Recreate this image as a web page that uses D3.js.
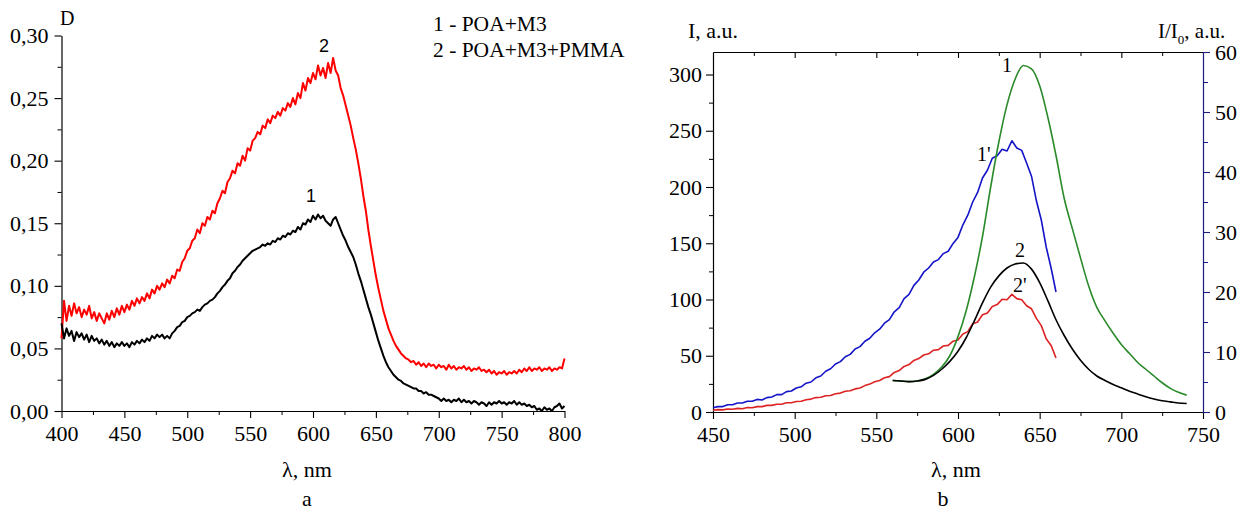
<!DOCTYPE html>
<html>
<head>
<meta charset="utf-8">
<script src="https://cdn.jsdelivr.net/npm/d3@7"></script>
<style>
  html, body { margin: 0; padding: 0; background: #fff; }
  svg { display: block; }
  text { font-family: "Liberation Serif", "Times New Roman", serif; }
</style>
</head>
<body>
<svg id="chart" width="1242" height="513"></svg>
<script>
// ---------------- DATA ----------------
// Panel a: absorbance spectra, wavelength grid 400..800 nm every 2 nm
const lambdaA = d3.range(400, 801, 2);
// curve 1 : POA+M3 (black)
const absPOA_M3 = [
  0.070,0.058,0.066,0.060,0.064,0.056,0.063,0.059,0.062,0.057,0.061,
  0.055,0.060,0.056,0.058,0.054,0.057,0.053,0.056,0.052,0.055,
  0.051,0.054,0.052,0.055,0.052,0.054,0.051,0.055,0.053,0.056,
  0.054,0.057,0.055,0.058,0.056,0.060,0.058,0.061,0.059,0.061,
  0.058,0.060,0.058,0.062,0.064,0.067,0.068,0.071,0.072,0.075,
  0.076,0.078,0.079,0.081,0.080,0.083,0.085,0.086,0.088,0.089,
  0.091,0.094,0.096,0.099,0.101,0.104,0.106,0.110,0.112,0.115,
  0.117,0.120,0.122,0.124,0.126,0.128,0.129,0.130,0.131,0.133,
  0.132,0.134,0.133,0.136,0.135,0.138,0.137,0.140,0.139,0.142,
  0.141,0.144,0.143,0.147,0.145,0.150,0.149,0.153,0.151,0.156,
  0.153,0.157,0.154,0.156,0.152,0.150,0.148,0.153,0.155,0.150,
  0.145,0.140,0.136,0.131,0.127,0.123,0.117,0.110,0.104,0.097,
  0.090,0.083,0.077,0.070,0.063,0.056,0.050,0.044,0.039,0.035,
  0.032,0.029,0.027,0.025,0.024,0.022,0.021,0.020,0.019,0.018,
  0.018,0.016,0.016,0.014,0.015,0.013,0.013,0.012,0.011,0.010,
  0.008,0.010,0.008,0.009,0.007,0.009,0.008,0.010,0.007,0.009,
  0.007,0.008,0.006,0.008,0.007,0.005,0.007,0.006,0.004,0.007,
  0.005,0.007,0.006,0.008,0.006,0.007,0.005,0.007,0.006,0.008,
  0.005,0.007,0.005,0.006,0.004,0.005,0.003,0.004,0.001,0.002,
  0.000,0.003,0.001,0.002,0.000,0.003,0.004,0.006,0.002,0.004
];
// curve 2 : POA+M3+PMMA (red)
const absPOA_M3_PMMA = [
  0.058,0.088,0.072,0.084,0.076,0.086,0.078,0.083,0.075,0.081,0.077,
  0.084,0.074,0.079,0.072,0.078,0.074,0.070,0.078,0.073,0.080,
  0.075,0.082,0.077,0.084,0.079,0.085,0.081,0.088,0.084,0.090,
  0.086,0.091,0.088,0.094,0.090,0.097,0.094,0.100,0.097,0.102,
  0.099,0.105,0.102,0.108,0.106,0.113,0.112,0.119,0.122,0.128,
  0.130,0.136,0.138,0.145,0.142,0.150,0.148,0.155,0.153,0.160,
  0.158,0.166,0.170,0.176,0.174,0.183,0.186,0.192,0.190,0.198,
  0.196,0.204,0.200,0.210,0.208,0.216,0.218,0.223,0.221,0.228,
  0.226,0.233,0.230,0.236,0.234,0.239,0.236,0.242,0.240,0.246,
  0.243,0.250,0.245,0.254,0.250,0.262,0.256,0.266,0.262,0.270,
  0.265,0.276,0.268,0.274,0.266,0.278,0.270,0.282,0.272,0.268,
  0.258,0.252,0.244,0.236,0.228,0.218,0.209,0.198,0.186,0.172,
  0.160,0.145,0.132,0.120,0.108,0.098,0.089,0.080,0.073,0.066,
  0.061,0.056,0.052,0.049,0.046,0.044,0.042,0.041,0.039,0.040,
  0.037,0.039,0.036,0.038,0.035,0.038,0.036,0.037,0.034,0.037,
  0.035,0.036,0.033,0.037,0.034,0.036,0.033,0.035,0.034,0.036,
  0.033,0.035,0.032,0.034,0.033,0.035,0.032,0.033,0.031,0.033,
  0.030,0.032,0.029,0.031,0.030,0.032,0.029,0.031,0.030,0.032,
  0.030,0.033,0.031,0.034,0.032,0.035,0.032,0.034,0.033,0.035,
  0.032,0.034,0.033,0.035,0.032,0.034,0.033,0.035,0.034,0.042
];
const yTicksA = [0, 0.05, 0.10, 0.15, 0.20, 0.25, 0.30];
const xTicksA = [400, 450, 500, 550, 600, 650, 700, 750, 800];
const legendA = ["1 - POA+M3", "2 - POA+M3+PMMA"];

// Panel b: luminescence, curves 1 and 2 on left axis (I, a.u.)
const lambdaI = d3.range(560, 741, 5);
const lum1 = [28,27.5,27,27.5,29.5,33.5,40,50,67,90,120,156,200,240,273,296,308,305,290,262,
              228,190,163,137,112,93,81,70,60,52,44,38,32,26,21,17.5,15];
const lum2 = [28,27.5,27,27.5,29,32.5,38,45,54,66,81,97,111,121,128,131.5,132.5,127,115,99,
              82,68,56,46,38,32,28,24.5,21.5,18.5,16,13.5,11.5,10,9,8,7.5];
// curves 1' and 2' on right axis (I/I0, a.u.)
const lambdaR = d3.range(450, 661, 3);
const ratio1p = [0.7,0.9,0.9,1.2,1.2,1.5,1.5,1.8,1.8,2.1,
                 2.0,2.4,2.5,2.9,2.9,3.4,3.5,4.0,4.2,4.8,
                 5.0,5.7,6.0,6.8,7.2,8.0,8.4,9.2,9.6,10.5,
                 10.9,11.8,12.3,13.2,13.8,14.8,15.4,16.7,17.4,18.9,
                 19.6,21.1,22.0,23.3,24.0,25.0,25.4,26.4,26.8,28.1,
                 29.1,31.2,32.8,35.0,36.6,39.0,40.3,42.3,42.7,43.8,
                 43.5,45.2,44.0,43.6,41.5,39.3,35.2,32.0,27.5,24.0,
                 20.0];
const ratio2p = [0.3,0.4,0.35,0.5,0.45,0.6,0.55,0.75,0.7,0.9,
                 0.9,1.1,1.1,1.3,1.3,1.55,1.55,1.75,1.8,2.05,
                 2.15,2.4,2.45,2.7,2.75,3.05,3.15,3.45,3.55,3.85,
                 4.0,4.4,4.65,5.05,5.25,5.7,5.9,6.6,6.9,7.6,
                 7.9,8.6,8.9,9.5,9.7,10.3,10.4,11.0,11.1,11.8,
                 12.0,13.0,13.4,14.7,15.0,16.2,16.5,17.6,17.9,18.8,
                 18.7,19.6,18.9,18.7,17.7,17.2,15.6,14.4,12.2,11.1,
                 9.0];
const xTicksB = [450, 500, 550, 600, 650, 700, 750];
const yTicksBL = [0, 50, 100, 150, 200, 250, 300];
const yTicksBR = [0, 10, 20, 30, 40, 50, 60];

// ---------------- DRAW ----------------
const svg = d3.select("#chart");
const SERIF = "Liberation Serif, Times New Roman, serif";
const SANS = "Liberation Sans, Arial, sans-serif";
const comma = v => d3.format(".2f")(v).replace(".", ",");

function styleAxis(g, color) {
  g.attr("font-family", null).attr("font-size", null);
  g.selectAll("path.domain").attr("stroke", color || "#000").attr("stroke-width", 1.2);
  g.selectAll(".tick line").attr("stroke", color || "#000").attr("stroke-width", 1.1);
  g.selectAll(".tick text").attr("fill", "#000")
    .attr("font-family", SERIF).style("font-family", SERIF).style("font-size", "22px");
}
function minor(g) {
  g.select("path.domain").remove();
  g.selectAll(".tick text").remove();
}
function txt(x, y, t, size, anchor, family) {
  return svg.append("text").attr("x", x).attr("y", y)
    .attr("text-anchor", anchor || "start").text(t)
    .attr("font-family", family || SERIF)
    .style("font-family", family || SERIF).style("font-size", size + "px");
}

// ---- Panel a ----
const xA = d3.scaleLinear().domain([400, 800]).range([61.5, 564.5]);
const yA = d3.scaleLinear().domain([0, 0.30]).range([411, 35.5]);

svg.append("g").attr("transform", "translate(0,411)")
  .call(d3.axisBottom(xA).tickValues(d3.range(425, 800, 50)).tickSize(4).tickFormat(""))
  .call(minor).call(g => g.selectAll("line").attr("stroke", "#000"));
svg.append("g").attr("transform", "translate(61.5,0)")
  .call(d3.axisLeft(yA).tickValues(d3.range(0.025, 0.3, 0.05)).tickSize(4).tickFormat(""))
  .call(minor).call(g => g.selectAll("line").attr("stroke", "#000"));
svg.append("g").attr("transform", "translate(0,411)")
  .call(d3.axisBottom(xA).tickValues(xTicksA).tickSize(7).tickSizeOuter(0).tickPadding(7))
  .call(g => styleAxis(g));
svg.append("g").attr("transform", "translate(61.5,0)")
  .call(d3.axisLeft(yA).tickValues(yTicksA).tickSize(7).tickSizeOuter(0).tickPadding(6).tickFormat(comma))
  .call(g => styleAxis(g));

const lineA = vals => d3.line().x((d, i) => xA(lambdaA[i])).y(d => yA(d))(vals);
svg.append("path").attr("d", lineA(absPOA_M3_PMMA)).attr("fill", "none")
  .attr("stroke", "#ff0000").attr("stroke-width", 2).attr("stroke-linejoin", "round");
svg.append("path").attr("d", lineA(absPOA_M3)).attr("fill", "none")
  .attr("stroke", "#000").attr("stroke-width", 2).attr("stroke-linejoin", "round");

txt(60, 25, "D", 20);
txt(324, 52, "2", 18, "middle", SANS);
txt(311, 202, "1", 18, "middle", SANS);
legendA.forEach((t, i) => txt(433, 31 + i * 25.5, t, 21.5));
txt(307, 477, "λ, nm", 22, "middle");
txt(307, 506, "a", 22, "middle");

// ---- Panel b ----
const xB = d3.scaleLinear().domain([450, 750]).range([713, 1203]);
const yBL = d3.scaleLinear().domain([0, 320]).range([412, 52]);
const yBR = d3.scaleLinear().domain([0, 60]).range([412, 52]);
const NAVY = "#1c1c80";

// top frame
svg.append("g").attr("transform", "translate(0,52)")
  .call(d3.axisTop(xB).tickValues(d3.range(475, 750, 50)).tickSize(-4).tickFormat(""))
  .call(minor).call(g => g.selectAll("line").attr("stroke", "#000"));
svg.append("g").attr("transform", "translate(0,52)")
  .call(d3.axisTop(xB).tickValues(xTicksB.slice(1, -1)).tickSize(-6).tickSizeOuter(0).tickFormat(""))
  .call(g => { g.selectAll(".tick text").remove(); styleAxis(g); });
// bottom
svg.append("g").attr("transform", "translate(0,412)")
  .call(d3.axisBottom(xB).tickValues(d3.range(475, 750, 50)).tickSize(4).tickFormat(""))
  .call(minor).call(g => g.selectAll("line").attr("stroke", "#000"));
svg.append("g").attr("transform", "translate(0,412)")
  .call(d3.axisBottom(xB).tickValues(xTicksB).tickSize(7).tickSizeOuter(0).tickPadding(7))
  .call(g => styleAxis(g));
// left
svg.append("g").attr("transform", "translate(713,0)")
  .call(d3.axisLeft(yBL).tickValues(d3.range(25, 320, 50)).tickSize(4).tickFormat(""))
  .call(minor).call(g => g.selectAll("line").attr("stroke", "#000"));
svg.append("g").attr("transform", "translate(713,0)")
  .call(d3.axisLeft(yBL).tickValues(yTicksBL).tickSize(7).tickSizeOuter(0).tickPadding(4))
  .call(g => styleAxis(g));
// right (navy)
svg.append("g").attr("transform", "translate(1203,0)")
  .call(d3.axisRight(yBR).tickValues(d3.range(5, 60, 10)).tickSize(5).tickFormat(""))
  .call(minor).call(g => g.selectAll("line").attr("stroke", NAVY));
svg.append("g").attr("transform", "translate(1203,0)")
  .call(d3.axisRight(yBR).tickValues(yTicksBR).tickSize(7).tickSizeOuter(0).tickPadding(5))
  .call(g => styleAxis(g, NAVY));

const lineL = (xs, vals) => d3.line().curve(d3.curveMonotoneX)
  .x((d, i) => xB(xs[i])).y(d => yBL(d))(vals);
const lineR = (xs, vals) => d3.line()
  .x((d, i) => xB(xs[i])).y(d => yBR(d))(vals);

svg.append("path").attr("d", lineR(lambdaR, ratio1p)).attr("fill", "none")
  .attr("stroke", "#1414c8").attr("stroke-width", 1.6).attr("stroke-linejoin", "round");
svg.append("path").attr("d", lineR(lambdaR, ratio2p)).attr("fill", "none")
  .attr("stroke", "#dd2222").attr("stroke-width", 1.6).attr("stroke-linejoin", "round");
svg.append("path").attr("d", lineL(lambdaI, lum1)).attr("fill", "none")
  .attr("stroke", "#2a8a2a").attr("stroke-width", 1.6);
svg.append("path").attr("d", lineL(lambdaI, lum2)).attr("fill", "none")
  .attr("stroke", "#000").attr("stroke-width", 1.6);

txt(1007, 72, "1", 20, "middle");
txt(977, 161, "1'", 20);
txt(1020, 257, "2", 20, "middle");
txt(1013, 292, "2'", 20);

txt(688, 38, "I, a.u.", 22);
const rt = txt(1158, 38, "", 21);
rt.append("tspan").text("I/I");
rt.append("tspan").attr("dy", 6).style("font-size", "13px").text("0");
rt.append("tspan").attr("dy", -6).text(", a.u.");

txt(956, 477, "λ, nm", 22, "middle");
txt(943, 506, "b", 22, "middle");
</script>
</body>
</html>
